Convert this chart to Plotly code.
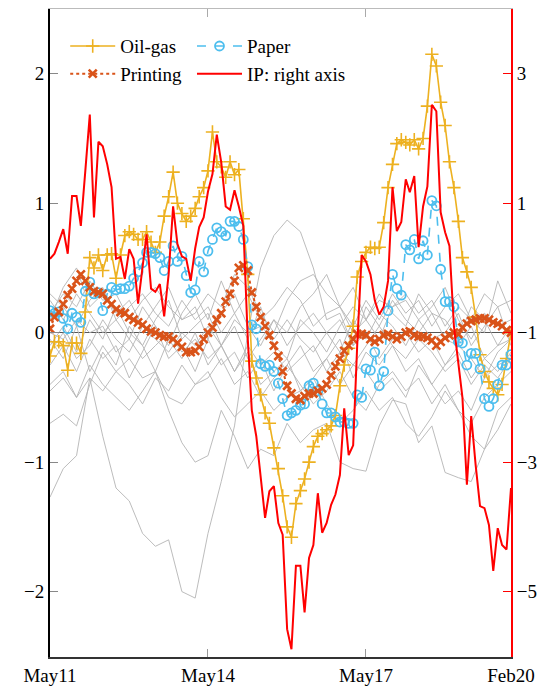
import pandas as pd
import plotly.graph_objects as go

# ---------------- data ----------------
dates = pd.date_range("2011-05-01", periods=106, freq="MS")
gray_dates = dates[::3]

oil_gas = [-0.18,-0.07,-0.07,-0.1,-0.29,-0.08,-0.08,-0.16,0.16,0.58,
           0.5,0.6,0.48,0.6,0.61,0.42,0.6,0.75,0.78,0.76,
           0.72,0.72,0.78,0.7,0.62,0.7,0.9,1.05,1.24,1.0,
           0.92,0.86,0.9,0.96,1.05,1.12,1.25,1.55,1.32,1.28,
           1.2,1.32,1.22,1.26,0.88,0.45,-0.22,-0.35,-0.48,-0.62,
           -0.7,-0.89,-1.05,-1.26,-1.5,-1.58,-1.32,-1.22,-1.13,-1.0,
           -0.88,-0.8,-0.78,-0.75,-0.72,-0.64,-0.41,-0.25,-0.12,0.05,
           0.43,0.55,0.62,0.66,0.65,0.66,0.85,1.12,1.3,1.46,
           1.49,1.47,1.45,1.49,1.42,1.5,1.75,2.15,2.06,1.78,
           1.6,1.32,1.12,0.86,0.58,0.47,0.35,0.12,-0.17,-0.3,
           -0.38,-0.43,-0.48,-0.4,-0.2,0.0]

paper = [0.17,0.15,0.16,0.11,0.03,0.15,0.12,0.08,0.32,0.39,
         0.3,0.31,0.17,0.3,0.35,0.33,0.34,0.34,0.36,0.42,
         0.47,0.54,0.62,0.62,0.61,0.58,0.48,0.55,0.67,0.55,
         0.59,0.44,0.31,0.33,0.55,0.47,0.63,0.72,0.81,0.78,
         0.75,0.86,0.86,0.82,0.72,0.51,0.06,0.03,-0.24,-0.26,
         -0.25,-0.3,-0.39,-0.51,-0.64,-0.62,-0.6,-0.56,-0.55,-0.41,
         -0.39,-0.45,-0.55,-0.62,-0.62,-0.65,-0.69,-0.69,-0.7,-0.7,
         -0.48,-0.5,-0.28,-0.29,-0.15,-0.41,-0.3,0.17,0.45,0.34,
         0.29,0.68,0.64,0.72,0.57,0.71,0.6,1.02,0.98,0.49,
         0.24,0.24,0.2,-0.07,-0.08,-0.25,-0.16,-0.16,-0.28,-0.51,
         -0.57,-0.51,-0.4,-0.25,-0.25,-0.17]

printing = [0.03,0.12,0.16,0.22,0.29,0.34,0.4,0.45,0.4,0.35,
            0.32,0.31,0.3,0.25,0.22,0.18,0.16,0.15,0.12,0.1,
            0.08,0.06,0.03,0.01,0.0,-0.02,-0.03,-0.03,-0.05,-0.08,
            -0.11,-0.15,-0.15,-0.14,-0.11,-0.05,0.0,0.04,0.1,0.15,
            0.24,0.3,0.4,0.5,0.52,0.48,0.31,0.2,0.12,0.05,
            -0.02,-0.1,-0.18,-0.3,-0.41,-0.47,-0.51,-0.52,-0.49,-0.47,
            -0.47,-0.45,-0.43,-0.4,-0.33,-0.26,-0.2,-0.14,-0.1,-0.05,
            -0.01,-0.01,-0.02,-0.05,-0.07,-0.05,-0.02,-0.01,-0.03,-0.05,
            -0.03,0.0,0.01,-0.02,-0.03,-0.03,-0.04,-0.06,-0.1,-0.07,
            -0.04,-0.02,0.0,-0.01,0.04,0.07,0.09,0.1,0.11,0.11,
            0.1,0.08,0.07,0.05,0.02,0.0]

ip = [0.14,0.22,0.4,0.6,0.22,1.11,1.11,0.65,1.5,2.37,
      0.78,1.95,1.88,1.6,1.25,0.14,0.17,-0.17,0.29,0.14,
      -0.55,0.0,0.52,-0.32,-0.37,-0.25,-0.75,-0.1,0.95,0.37,
      0.18,0.14,-0.2,0.3,0.63,0.78,1.18,1.45,2.06,1.63,
      0.95,0.9,1.2,0.95,0.65,-1.1,-2.2,-2.6,-3.2,-3.86,
      -3.45,-3.37,-3.94,-4.12,-5.58,-5.89,-4.6,-4.6,-5.32,-4.48,
      -4.28,-3.48,-4.09,-3.94,-3.66,-3.5,-3.2,-2.17,-2.89,-2.74,
      -1.2,0.2,0.1,-0.1,-0.5,-0.72,-0.6,-0.2,1.25,0.57,
      0.71,1.37,1.17,1.42,0.32,0.95,1.26,2.52,2.42,0.86,
      0.55,0.34,-0.9,-1.5,-2.0,-3.35,-2.29,-3.05,-3.68,-3.71,
      -3.97,-4.68,-4.02,-4.28,-4.35,-3.4]

# other sectors (quarterly readings)
gray_series = [
    [-1.27,-1.05,-0.95,-0.35,-0.8,-1.2,-1.3,-1.55,-1.65,-1.6,-2.0,-2.05,-1.55,-1.15,-0.72,0.0,0.5,0.75,0.87,0.78,0.5,0.1,0.15,-0.1,0.2,0.05,0.25,0.1,0.0,0.15,-0.05,-0.1,0.05,-0.2,-0.1,-0.05],
    [-0.7,-0.63,-0.72,-0.4,-0.15,-0.3,-0.2,-0.35,-0.3,-0.6,-0.85,-1.0,-0.95,-0.6,-0.8,-1.05,-0.9,-0.95,-0.7,-0.85,-0.75,-0.7,-1.0,-1.05,-1.07,-0.72,-0.52,-0.55,-0.85,-0.72,-1.08,-1.12,-1.15,-0.9,-0.6,-0.5],
    [0.1,0.35,0.5,0.2,0.3,0.15,0.25,0.05,0.2,0.35,0.1,0.2,-0.05,0.15,0.3,0.05,-0.1,0.1,0.0,0.2,0.3,0.45,0.2,0.05,0.25,0.1,0.3,0.15,0.25,0.05,0.2,0.3,0.1,0.0,0.4,0.15],
    [-0.1,0.05,-0.15,0.1,-0.05,0.2,0.0,-0.1,0.1,0.25,-0.05,0.05,0.15,-0.1,0.05,-0.2,-0.05,0.1,-0.1,0.05,0.15,0.0,-0.15,0.1,-0.05,0.15,0.05,-0.1,0.1,-0.05,0.0,0.15,-0.1,0.05,0.2,-0.1],
    [-0.25,-0.1,-0.3,-0.05,-0.2,-0.1,-0.35,-0.15,0.05,-0.2,-0.1,-0.3,-0.05,-0.25,-0.15,-0.35,-0.2,-0.45,-0.25,-0.1,-0.3,-0.2,-0.05,-0.35,-0.15,-0.25,-0.1,-0.3,-0.2,-0.4,-0.25,-0.15,-0.35,-0.2,-0.3,-0.15],
    [0.25,0.1,0.3,0.15,0.0,0.1,-0.05,0.2,0.05,-0.1,0.15,0.3,0.1,0.4,0.15,-0.05,0.2,-0.1,-0.2,0.1,0.0,-0.15,0.05,0.2,0.1,0.3,0.15,0.05,0.3,0.15,0.1,-0.05,0.2,0.1,-0.1,0.05],
    [-0.05,-0.2,0.05,-0.3,-0.1,-0.25,0.05,-0.1,-0.3,-0.05,-0.2,0.0,-0.25,-0.1,-0.3,-0.15,-0.4,-0.3,-0.2,-0.45,-0.35,-0.2,-0.4,-0.25,-0.3,-0.45,-0.35,-0.5,-0.25,-0.4,-0.55,-0.45,-0.6,-0.35,-0.25,-0.2],
    [0.3,0.2,0.05,0.25,0.35,0.1,0.2,0.3,0.15,0.05,0.25,0.1,0.2,0.0,0.15,0.3,0.1,0.2,0.35,0.25,0.05,0.15,0.2,0.0,0.1,-0.05,0.2,0.25,0.1,0.2,0.35,0.1,-0.05,0.15,0.05,0.1],
    [0.0,-0.05,0.1,0.0,0.05,-0.15,-0.05,-0.2,-0.1,0.0,-0.15,-0.05,-0.2,-0.1,0.1,0.0,0.05,-0.05,0.1,-0.05,-0.15,0.0,0.1,-0.1,0.0,-0.2,-0.05,0.0,-0.15,-0.05,-0.25,-0.1,-0.2,-0.35,-0.15,-0.05],
    [-0.4,-0.3,-0.5,-0.35,-0.45,-0.3,-0.4,-0.55,-0.35,-0.45,-0.25,-0.4,-0.35,-0.2,-0.4,-0.3,-0.5,-0.35,-0.25,-0.4,-0.55,-0.45,-0.3,-0.5,-0.6,-0.4,-0.3,-0.45,-0.35,-0.55,-0.4,-0.6,-0.7,-0.5,-0.4,-0.3],
    [0.15,0.3,0.2,0.4,0.25,0.3,0.1,0.25,0.35,0.2,0.1,0.15,0.3,0.2,0.45,0.35,0.15,0.0,0.25,0.4,0.45,0.3,0.2,0.35,0.1,0.25,0.2,0.3,0.15,0.25,0.05,0.2,0.1,0.3,0.2,0.25],
    [-0.15,0.0,-0.2,-0.1,0.1,-0.05,-0.15,0.05,-0.05,-0.15,0.0,-0.1,0.05,-0.1,-0.3,-0.1,-0.25,-0.15,-0.3,-0.2,-0.1,-0.3,-0.15,-0.25,-0.1,0.05,-0.1,-0.2,-0.05,-0.15,-0.3,-0.2,-0.4,-0.25,-0.35,-0.2],
    [-0.45,-0.35,-0.5,-0.25,-0.4,-0.5,-0.6,-0.45,-0.3,-0.5,-0.55,-0.4,-0.3,-0.5,-0.65,-0.55,-0.45,-0.6,-0.5,-0.45,-0.35,-0.55,-0.7,-0.6,-0.45,-0.6,-0.5,-0.7,-0.8,-0.65,-0.45,-0.6,-0.8,-0.9,-0.75,-0.55],
]

tick_dates = ["2011-05-01", "2014-05-01", "2017-05-01", "2020-02-01"]
tick_labels = ["May11", "May14", "May17", "Feb20"]
left_ticks = [-2, -1, 0, 1, 2]
right_ticks = [-5, -3, -1, 1, 3]

# ---------------- figure ----------------
C_OIL, C_PAPER, C_PRINT, C_IP = "#EDB120", "#4DBEEE", "#D95319", "#FF0000"
FONT = "Liberation Serif"

fig = go.Figure()

for g in gray_series:
    fig.add_trace(go.Scatter(x=gray_dates, y=g, mode="lines", showlegend=False,
                             line=dict(color="#b4b4b4", width=0.9), hoverinfo="skip"))

fig.add_trace(go.Scatter(x=dates, y=oil_gas, name="Oil-gas", mode="lines+markers",
                         legend="legend",
                         line=dict(color=C_OIL, width=1.6),
                         marker=dict(symbol="cross-thin", size=9.5, color=C_OIL,
                                     line=dict(color=C_OIL, width=1.6))))
fig.add_trace(go.Scatter(x=dates, y=paper, name="Paper", mode="lines+markers",
                         legend="legend2",
                         line=dict(color=C_PAPER, width=1.6, dash="dash"),
                         marker=dict(symbol="circle-open", size=9, color=C_PAPER,
                                     line=dict(color=C_PAPER, width=1.8))))
fig.add_trace(go.Scatter(x=dates, y=printing, name="Printing", mode="lines+markers",
                         legend="legend",
                         line=dict(color=C_PRINT, width=2, dash="dot"),
                         marker=dict(symbol="x-thin", size=8, color=C_PRINT,
                                     line=dict(color=C_PRINT, width=2.6))))
fig.add_trace(go.Scatter(x=dates, y=ip, name="IP: right axis", mode="lines",
                         legend="legend2", yaxis="y2",
                         line=dict(color=C_IP, width=2)))
# helper trace so the top axis frame exists
fig.add_trace(go.Scatter(x=[dates[0]], y=[None], xaxis="x2", showlegend=False,
                         hoverinfo="skip"))

x_range = [tick_dates[0], tick_dates[-1]]
legend_common = dict(bgcolor="rgba(0,0,0,0)", font=dict(family=FONT, size=19, color="black"),
                     itemwidth=45, xanchor="left", yanchor="top", tracegroupgap=0)

fig.update_layout(
    width=556, height=695,
    margin=dict(l=50, r=45, t=9, b=35),
    plot_bgcolor="white", paper_bgcolor="white",
    font=dict(family=FONT, size=19, color="black"),
    showlegend=True,
    legend=dict(x=0.033, y=0.972, **legend_common),
    legend2=dict(x=0.308, y=0.972, **legend_common),
    xaxis=dict(type="date", range=x_range, tickvals=tick_dates, ticktext=tick_labels,
               ticks="inside", ticklen=8, tickcolor="#999", tickwidth=1,
               showline=True, linecolor="#333", linewidth=1.5, showgrid=False,
               zeroline=False, tickfont=dict(size=19)),
    xaxis2=dict(type="date", range=x_range, overlaying="x", side="top",
                tickvals=tick_dates[1:3], showticklabels=False,
                ticks="inside", ticklen=8, tickcolor="#aaa",
                showline=True, linecolor="#bbb", linewidth=1, showgrid=False),
    yaxis=dict(range=[-2.505, 2.5], tickvals=left_ticks, ticks="inside", ticklen=8,
               tickcolor="#888", showline=True, linecolor="black", linewidth=2,
               showgrid=False, zeroline=True, zerolinecolor="#555", zerolinewidth=1.2,
               tickfont=dict(size=19)),
    yaxis2=dict(range=[-6.01, 4.0], tickvals=right_ticks, overlaying="y", side="right",
                ticks="inside", ticklen=8, tickcolor=C_IP, showline=True, linecolor=C_IP,
                linewidth=2, showgrid=False, zeroline=False, tickfont=dict(size=19)),
)

fig.write_html("out.html")
